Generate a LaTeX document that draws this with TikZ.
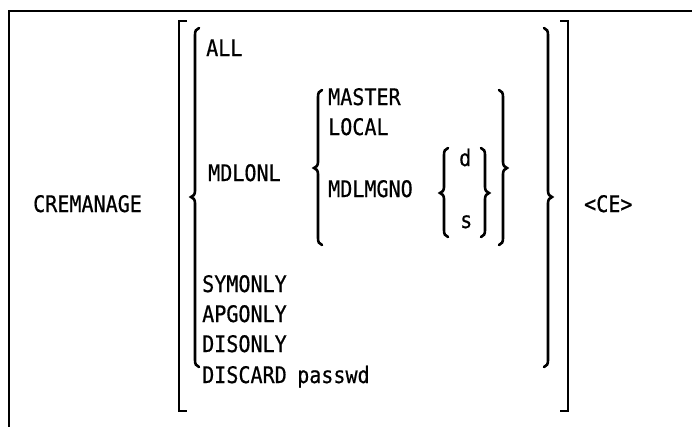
\documentclass[tikz,border=0pt]{standalone}
\usepackage{fontspec}
\newfontfamily\gfont[FakeStretch=0.88,FakeBold=0.6]{DejaVu Sans Mono}
\newcommand\mybraceL[4]{%
  \draw[brc] (#1+4,#2) .. controls (#1+1,#2+1) and (#1,#2+3) .. (#1,#2+7) -- (#1,#3-6)
    .. controls (#1,#3-2) and (#1-2,#3-1) .. (#1-4,#3)
    .. controls (#1-2,#3+1) and (#1,#3+2) .. (#1,#3+6) -- (#1,#4-7)
    .. controls (#1,#4-3) and (#1+1,#4-1) .. (#1+4,#4);}
\newcommand\mybraceR[4]{%
  \draw[brc] (#1-4,#2) .. controls (#1-1,#2+1) and (#1,#2+3) .. (#1,#2+7) -- (#1,#3-6)
    .. controls (#1,#3-2) and (#1+2,#3-1) .. (#1+4,#3)
    .. controls (#1+2,#3+1) and (#1,#3+2) .. (#1,#3+6) -- (#1,#4-7)
    .. controls (#1,#4-3) and (#1-1,#4-1) .. (#1-4,#4);}
\begin{document}
\begin{tikzpicture}[x=1pt,y=-1pt,
  txt/.style={font=\gfont\fontsize{22.8}{26}\selectfont, inner sep=0pt, anchor=base west},
  brk/.style={line width=2.6pt},
  brc/.style={line width=2.6pt, line cap=round},
  frm/.style={line width=2.2pt}]
\useasboundingbox (0,0) rectangle (692,426);
% frame
\draw[frm] (9.3,430) -- (9.3,10.6) -- (695,10.6);
% outer brackets
\draw[brk] (187,21) -- (179,21) -- (179,411) -- (187,411);
\draw[brk] (560,21) -- (568,21) -- (568,411) -- (560,411);
% braces
\mybraceL{195}{28}{197}{367}
\mybraceR{548}{28}{197}{367}
\mybraceL{318}{90}{168}{245}
\mybraceR{503}{90}{168}{245}
\mybraceL{444}{148}{193}{237}
\mybraceR{485}{148}{193}{237}
% texts
\node[txt] (cre) at (33,212) {CREMANAGE};
\node[txt] (all) at (206,56) {ALL};
\node[txt] (mdlonl) at (208,181) {MDLONL};
\node[txt] (master) at (328,105) {MASTER};
\node[txt] (local) at (328,135) {LOCAL};
\node[txt] (mdlmgno) at (328,197) {MDLMGNO};
\node[txt] (d) at (459,166) {d};
\node[txt] (s) at (460,228) {s};
\node[txt] (symonly) at (202,292) {SYMONLY};
\node[txt] (apgonly) at (202,322) {APGONLY};
\node[txt] (disonly) at (202,352) {DISONLY};
\node[txt] (discard) at (202,383) {DISCARD};
\node[txt] (passwd) at (297,383) {passwd};
\node[txt] (ce) at (584,212) {<CE>};
\end{tikzpicture}
\end{document}
